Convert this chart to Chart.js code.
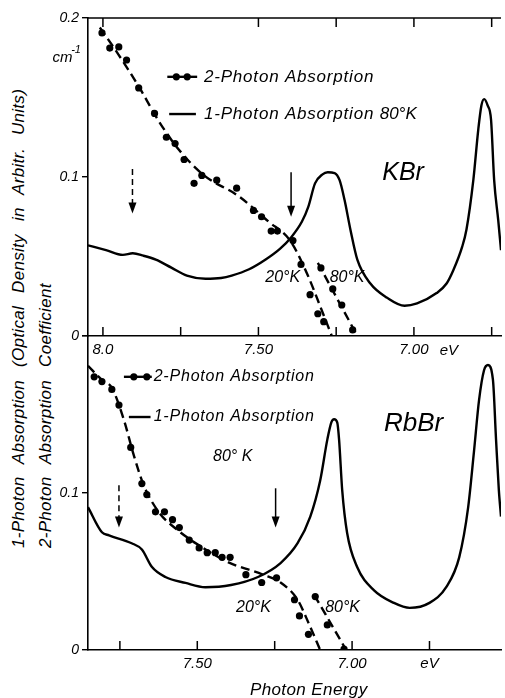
<!DOCTYPE html>
<html>
<head>
<meta charset="utf-8">
<title>KBr / RbBr two-photon absorption</title>
<script src="https://cdn.jsdelivr.net/npm/chart.js@4.4.1/dist/chart.umd.min.js"></script>
<style>
  html, body { margin: 0; padding: 0; background: #fff; }
  body { position: relative; width: 505px; height: 698px; overflow: hidden; font-family: "Liberation Sans", Arial, sans-serif; }
  canvas { position: absolute; left: 0; }
  #kbr { top: 0; }
  #rbbr { top: 320px; }
  .ytitle { position: absolute; transform-origin: 0 0; transform: rotate(-90deg); white-space: nowrap;
            font-style: italic; font-size: 17px; line-height: 18px; word-spacing: 8px; letter-spacing: 0.3px; color: #000; }
</style>
</head>
<body>
<div class="ytitle" style="left:10px; top:548px;">1-Photon Absorption (Optical Density in Arbitr. Units)</div>
<div class="ytitle" style="left:37px; top:548px;">2-Photon Absorption Coefficient</div>
<canvas id="kbr" width="505" height="355"></canvas>
<canvas id="rbbr" width="505" height="378"></canvas>
<script>
const ink = '#000';
const FONT = '"Liberation Sans", Arial, sans-serif';

// ---- KBr (upper panel), photon energy in eV ----
// 1-photon absorption, 80K
const kbrOneE = [8.048, 7.99, 7.936, 7.904, 7.87, 7.83, 7.78, 7.73, 7.67, 7.62, 7.586, 7.53, 7.478, 7.43, 7.395,
  7.36, 7.34, 7.318, 7.295, 7.277, 7.255, 7.239, 7.223, 7.204, 7.182, 7.14, 7.086, 7.03, 6.99, 6.927, 6.895,
  6.873, 6.845, 6.831, 6.809, 6.793, 6.783, 6.774, 6.763, 6.752, 6.742, 6.729, 6.720];
const kbrOneV = [0.057, 0.054, 0.051, 0.052, 0.0505, 0.048, 0.043, 0.038, 0.036, 0.0365, 0.038, 0.042, 0.048, 0.055, 0.062,
  0.072, 0.081, 0.096, 0.1015, 0.103, 0.1025, 0.098, 0.0855, 0.0667, 0.048, 0.033, 0.024, 0.019, 0.0205, 0.027, 0.033,
  0.0415, 0.056, 0.067, 0.098, 0.130, 0.145, 0.149, 0.145, 0.136, 0.098, 0.073, 0.054];
// 2-photon measured points, 20K and 80K
const kbrTwo20E = [8.003, 7.978, 7.949, 7.924, 7.885, 7.834, 7.796, 7.768, 7.739, 7.707, 7.682, 7.634, 7.570,
  7.516, 7.490, 7.459, 7.439, 7.389, 7.363, 7.334, 7.309, 7.290];
const kbrTwo20V = [0.1906, 0.1811, 0.1818, 0.1736, 0.156, 0.140, 0.125, 0.121, 0.111, 0.096, 0.101, 0.098, 0.093,
  0.079, 0.075, 0.066, 0.066, 0.060, 0.045, 0.026, 0.014, 0.009];
const kbrTwo80E = [7.299, 7.261, 7.232, 7.197];
const kbrTwo80V = [0.0428, 0.0296, 0.0195, 0.0038];
// dashed guide curves
const kbrFit20E = [8.01, 7.95, 7.882, 7.82, 7.755, 7.675, 7.564, 7.468, 7.398, 7.341, 7.303, 7.264];
const kbrFit20V = [0.194, 0.177, 0.156, 0.135, 0.117, 0.101, 0.088, 0.072, 0.060, 0.038, 0.0195, 0];
const kbrFit80E = [7.309, 7.182];
const kbrFit80V = [0.046, 0];

// ---- RbBr (lower panel) ----
const rbbrOneE = [7.853, 7.808, 7.785, 7.712, 7.679, 7.647, 7.603, 7.538, 7.474, 7.391, 7.304, 7.231, 7.176,
  7.135, 7.103, 7.080, 7.067, 7.058, 7.048, 7.042, 7.032, 7.016, 6.984, 6.929, 6.865, 6.814, 6.75, 6.696, 6.654,
  6.625, 6.606, 6.590, 6.574, 6.561, 6.545, 6.535, 6.526, 6.519];
const rbbrOneV = [0.091, 0.075, 0.073, 0.068, 0.064, 0.053, 0.0465, 0.0427, 0.040, 0.0414, 0.0465, 0.0554, 0.068,
  0.085, 0.108, 0.134, 0.145, 0.147, 0.145, 0.134, 0.102, 0.0745, 0.053, 0.038, 0.030, 0.0268, 0.030, 0.040, 0.059,
  0.091, 0.127, 0.159, 0.178, 0.1815, 0.172, 0.134, 0.102, 0.085];
const rbbrTwo20E = [7.833, 7.808, 7.776, 7.753, 7.715, 7.679, 7.663, 7.635, 7.606, 7.580, 7.558, 7.526, 7.494,
  7.468, 7.442, 7.420, 7.394, 7.343, 7.292, 7.244, 7.186, 7.170, 7.141];
const rbbrTwo20V = [0.174, 0.171, 0.166, 0.156, 0.129, 0.106, 0.099, 0.088, 0.088, 0.083, 0.078, 0.070, 0.065,
  0.062, 0.062, 0.059, 0.059, 0.048, 0.043, 0.046, 0.032, 0.0217, 0.010];
const rbbrTwo80E = [7.119, 7.080, 7.026];
const rbbrTwo80V = [0.034, 0.016, 0.0006];
const rbbrFit20E = [7.853, 7.808, 7.776, 7.737, 7.705, 7.673, 7.625, 7.561, 7.497, 7.401, 7.288, 7.231, 7.176, 7.138, 7.103];
const rbbrFit20V = [0.181, 0.172, 0.167, 0.1465, 0.124, 0.105, 0.088, 0.076, 0.067, 0.056, 0.048, 0.043, 0.032, 0.016, 0];
const rbbrFit80E = [7.122, 7.019];
const rbbrFit80V = [0.035, 0];

// ---- ticks ----
const kbrTickE = [8.0, 7.75, 7.5, 7.25, 7.0, 6.75];
const kbrTickLabels = ['8.0', '', '7.50', '', '7.00', ''];
const rbbrTickE = [7.75, 7.5, 7.25, 7.0, 6.75];
const rbbrTickLabels = ['', '7.50', '', '7.00', 'eV'];
const yTickV = [0, 0.1, 0.2];
const kbrYLabels = ['0', '0.1', '0.2'];
const rbbrYLabels = ['0', '0.1', ''];

const pts = (xs, ys) => xs.map((x, i) => ({x: x, y: ys[i]}));

function curve(xs, ys, dashed) {
  return {
    data: pts(xs, ys), showLine: true, borderColor: ink, borderWidth: 2.4,
    borderDash: dashed ? [9, 5] : [], pointRadius: 0, cubicInterpolationMode: 'monotone', fill: false
  };
}
function dots(xs, ys) {
  return { data: pts(xs, ys), showLine: false, pointRadius: 3.6, pointBackgroundColor: ink, pointBorderWidth: 0 };
}

function xScale(min, max, tickE, tickLabels, tall) {
  return {
    type: 'linear', reverse: true, min: min, max: max,
    afterBuildTicks: s => { s.ticks = tickE.map(v => ({value: v})); },
    afterFit: s => { s.height = tall ? 48 : 19; },
    grid: { display: false, drawTicks: false },
    border: { display: true, color: ink, width: 1.6 },
    ticks: {
      padding: 5, maxRotation: 0, autoSkip: false, color: ink,
      font: { family: FONT, size: 15, style: 'italic' },
      callback: v => tickLabels[tickE.indexOf(v)]
    }
  };
}

function yScale(labels) {
  return {
    type: 'linear', min: 0, max: 0.2,
    afterBuildTicks: s => { s.ticks = yTickV.map(v => ({value: v})); },
    afterFit: s => { s.width = 88; },
    grid: { drawOnChartArea: false, drawTicks: true, tickLength: 6, color: ink, lineWidth: 1.4 },
    border: { display: true, color: ink, width: 1.6 },
    ticks: {
      padding: 3, color: ink, font: { family: FONT, size: 14, style: 'italic' },
      callback: v => labels[yTickV.indexOf(v)]
    }
  };
}

// frame ticks, arrows, legend samples and labels
const annotate = {
  id: 'annotate',
  afterDraw(chart, args, o) {
    const ctx = chart.ctx, a = chart.chartArea, x = chart.scales.x, y = chart.scales.y;
    const px = e => x.getPixelForValue(e), py = v => y.getPixelForValue(v);
    ctx.save();
    ctx.strokeStyle = ink; ctx.fillStyle = ink; ctx.lineWidth = 1.5;
    if (o.topTicks) {
      ctx.beginPath(); ctx.moveTo(a.left, a.top); ctx.lineTo(a.right, a.top); ctx.stroke();
      o.topTicks.forEach(e => { ctx.beginPath(); ctx.moveTo(px(e), a.top); ctx.lineTo(px(e), a.top + 9); ctx.stroke(); });
    }
    o.bottomTicks.forEach(e => { ctx.beginPath(); ctx.moveTo(px(e), a.bottom); ctx.lineTo(px(e), a.bottom - 9); ctx.stroke(); });

    o.arrows.forEach(ar => {
      const ax = px(ar.e), y1 = py(ar.from), y2 = py(ar.to);
      ctx.setLineDash(ar.dashed ? [6, 4] : []);
      ctx.beginPath(); ctx.moveTo(ax, y1); ctx.lineTo(ax, y2 - 8); ctx.stroke();
      ctx.setLineDash([]);
      ctx.beginPath(); ctx.moveTo(ax - 4, y2 - 11); ctx.lineTo(ax, y2); ctx.lineTo(ax + 4, y2 - 11); ctx.closePath(); ctx.fill();
    });

    o.legend.forEach(l => {
      ctx.lineWidth = 2.4;
      ctx.beginPath(); ctx.moveTo(px(l.e1), py(l.v)); ctx.lineTo(px(l.e2), py(l.v)); ctx.stroke();
      (l.dots || []).forEach(e => { ctx.beginPath(); ctx.arc(px(e), py(l.v), 3.6, 0, Math.PI * 2); ctx.fill(); });
    });

    ctx.textBaseline = 'middle'; ctx.textAlign = 'left';
    o.texts.forEach(t => {
      ctx.font = 'italic ' + t.size + 'px ' + FONT;
      ctx.letterSpacing = (t.sp || 0) + 'px';
      ctx.fillText(t.t, px(t.e), py(t.v));
    });
    ctx.restore();
  }
};

function options(xs, ys, ann) {
  return {
    responsive: false, animation: false, events: [],
    layout: { padding: { top: ann.padTop, left: 0, right: 0, bottom: 0 } },
    scales: { x: xs, y: ys },
    plugins: { legend: { display: false }, tooltip: { enabled: false }, annotate: ann }
  };
}

new Chart(document.getElementById('kbr'), {
  type: 'scatter',
  data: { datasets: [
    curve(kbrOneE, kbrOneV, false),
    curve(kbrFit20E, kbrFit20V, true),
    curve(kbrFit80E, kbrFit80V, true),
    dots(kbrTwo20E, kbrTwo20V),
    dots(kbrTwo80E, kbrTwo80V)
  ]},
  options: options(xScale(6.720, 8.048, kbrTickE, kbrTickLabels, false), yScale(kbrYLabels), {
    padTop: 18,
    topTicks: [8.0, 7.5, 7.25, 7.0, 6.75],
    bottomTicks: kbrTickE,
    arrows: [{e: 7.905, from: 0.105, to: 0.077, dashed: true}, {e: 7.395, from: 0.103, to: 0.075}],
    legend: [{e1: 7.793, e2: 7.697, v: 0.163, dots: [7.764, 7.729]}, {e1: 7.787, e2: 7.701, v: 0.1396}],
    texts: [
      {t: '2-Photon Absorption', e: 7.675, v: 0.163, size: 17, sp: 0.8},
      {t: '1-Photon Absorption', e: 7.675, v: 0.1396, size: 17, sp: 0.8},
      {t: '80°K', e: 7.110, v: 0.1396, size: 17},
      {t: 'KBr', e: 7.102, v: 0.1025, size: 25},
      {t: '20°K', e: 7.478, v: 0.037, size: 16},
      {t: '80°K', e: 7.271, v: 0.037, size: 16},
      {t: 'cm', e: 8.162, v: 0.175, size: 15},
      {t: '-1', e: 8.102, v: 0.180, size: 11},
      {t: 'eV', e: 6.917, v: -0.0095, size: 15}
    ]
  }),
  plugins: [annotate]
});

new Chart(document.getElementById('rbbr'), {
  type: 'scatter',
  data: { datasets: [
    curve(rbbrOneE, rbbrOneV, false),
    curve(rbbrFit20E, rbbrFit20V, true),
    curve(rbbrFit80E, rbbrFit80V, true),
    dots(rbbrTwo20E, rbbrTwo20V),
    dots(rbbrTwo80E, rbbrTwo80V)
  ]},
  options: options(xScale(6.519, 7.853, rbbrTickE, rbbrTickLabels, true), yScale(rbbrYLabels), {
    padTop: 16,
    bottomTicks: rbbrTickE,
    arrows: [{e: 7.753, from: 0.105, to: 0.078, dashed: true}, {e: 7.247, from: 0.103, to: 0.078}],
    legend: [{e1: 7.737, e2: 7.647, v: 0.174, dots: [7.705, 7.663]}, {e1: 7.721, e2: 7.651, v: 0.1484}],
    texts: [
      {t: '2-Photon Absorption', e: 7.641, v: 0.174, size: 16, sp: 0.8},
      {t: '1-Photon Absorption', e: 7.641, v: 0.1484, size: 16, sp: 0.8},
      {t: '80° K', e: 7.449, v: 0.123, size: 16},
      {t: 'RbBr', e: 6.897, v: 0.144, size: 26},
      {t: '20°K', e: 7.375, v: 0.0268, size: 16},
      {t: '80°K', e: 7.087, v: 0.0268, size: 16},
      {t: 'Photon Energy', e: 7.33, v: -0.0255, size: 17, sp: 0.4}
    ]
  }),
  plugins: [annotate]
});
</script>
</body>
</html>
